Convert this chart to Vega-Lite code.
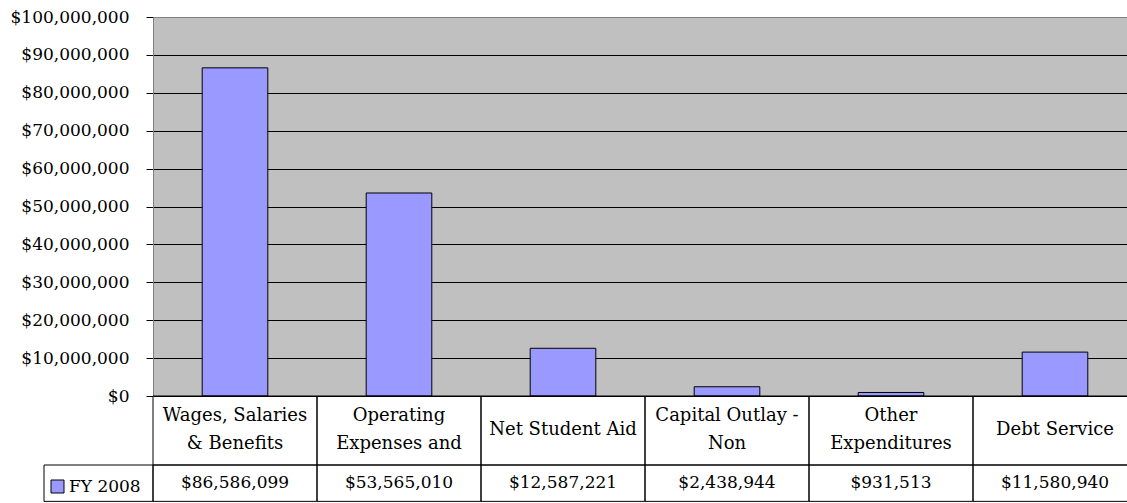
{
  "$schema": "https://vega.github.io/schema/vega-lite/v6.json",
  "width": 974,
  "height": 379,
  "autosize": {"type": "none"},
  "padding": {"left": 153, "top": 17, "right": 0, "bottom": 107},
  "background": "white",
  "config": {
    "view": {"fill": "#C0C0C0", "stroke": null},
    "font": "DejaVu Serif",
    "axisY": {
      "labelOverlap": false, "format": "$,.0f", "title": null, "grid": true,
      "gridColor": {"condition": {"test": "datum.value >= 100000000", "value": "#808080"}, "value": "black"},
      "gridOpacity": 1, "gridWidth": 1,
      "domainColor": "#808080", "tickColor": "black", "tickSize": 7, "labelPadding": 17,
      "labelFontSize": 17, "labelFont": "DejaVu Serif", "labelColor": "black"
    }
  },
  "data": {"values": [
    {"cat": "Wages", "label": ["Wages, Salaries", "& Benefits"], "series": "FY 2008", "value": 86586099},
    {"cat": "Operating", "label": ["Operating", "Expenses and"], "series": "FY 2008", "value": 53565010},
    {"cat": "Aid", "label": ["Net Student Aid"], "series": "FY 2008", "value": 12587221},
    {"cat": "Capital", "label": ["Capital Outlay -", "Non"], "series": "FY 2008", "value": 2438944},
    {"cat": "Other", "label": ["Other", "Expenditures"], "series": "FY 2008", "value": 931513},
    {"cat": "Debt", "label": ["Debt Service"], "series": "FY 2008", "value": 11580940}
  ]},
  "layer": [
    {
      "mark": {"type": "bar", "width": {"band": 0.4}, "stroke": "black", "strokeWidth": 1},
      "encoding": {
        "x": {"field": "cat", "type": "nominal", "sort": null, "axis": null,
              "scale": {"type": "band", "paddingInner": 0, "paddingOuter": 0, "range": [0, 984]}},
        "y": {"field": "value", "type": "quantitative",
              "scale": {"domain": [0, 100000000], "nice": false},
              "axis": {"values": [0, 10000000, 20000000, 30000000, 40000000, 50000000, 60000000, 70000000, 80000000, 90000000, 100000000]}},
        "color": {"field": "series", "type": "nominal", "scale": {"range": ["#9999FF"]},
                  "legend": {"orient": "none", "legendX": -104, "legendY": 461, "title": null,
                             "symbolType": "square", "symbolSize": 169, "symbolStrokeColor": "black",
                             "symbolStrokeWidth": 1, "labelFontSize": 17, "labelFont": "DejaVu Serif",
                             "labelColor": "black", "labelOffset": 3, "padding": 0}}
      }
    },
    {
      "mark": {"type": "bar", "fill": "white", "fillOpacity": 0, "stroke": "black", "strokeWidth": 1},
      "encoding": {
        "x": {"field": "cat", "type": "nominal", "sort": null},
        "y": {"datum": 0, "axis": {"values": [0, 10000000, 20000000, 30000000, 40000000, 50000000, 60000000, 70000000, 80000000, 90000000, 100000000]}},
        "y2": {"datum": -18206000}
      }
    },
    {
      "mark": {"type": "bar", "fill": "white", "fillOpacity": 0, "stroke": "black", "strokeWidth": 1},
      "encoding": {
        "x": {"field": "cat", "type": "nominal", "sort": null},
        "y": {"datum": -18206000, "axis": {"values": [0, 10000000, 20000000, 30000000, 40000000, 50000000, 60000000, 70000000, 80000000, 90000000, 100000000]}},
        "y2": {"datum": -27800000}
      }
    },
    {
      "transform": [{"filter": "datum.cat == 'Wages'"}],
      "mark": {"type": "bar", "fill": "white", "fillOpacity": 0, "stroke": "black", "strokeWidth": 1, "width": 109, "xOffset": -136.5},
      "encoding": {
        "x": {"field": "cat", "type": "nominal", "sort": null},
        "y": {"datum": -18206000, "axis": {"values": [0, 10000000, 20000000, 30000000, 40000000, 50000000, 60000000, 70000000, 80000000, 90000000, 100000000]}},
        "y2": {"datum": -27800000}
      }
    },
    {
      "transform": [{"filter": "length(datum.label) > 1"}],
      "mark": {"type": "text", "lineHeight": 28, "fontSize": 18, "font": "DejaVu Serif", "color": "black", "baseline": "middle"},
      "encoding": {
        "x": {"field": "cat", "type": "nominal", "sort": null},
        "y": {"datum": -5406000, "axis": {"values": [0, 10000000, 20000000, 30000000, 40000000, 50000000, 60000000, 70000000, 80000000, 90000000, 100000000]}},
        "text": {"field": "label"}
      }
    },
    {
      "transform": [{"filter": "length(datum.label) == 1"}],
      "mark": {"type": "text", "fontSize": 18, "font": "DejaVu Serif", "color": "black", "baseline": "middle"},
      "encoding": {
        "x": {"field": "cat", "type": "nominal", "sort": null},
        "y": {"datum": -9100000, "axis": {"values": [0, 10000000, 20000000, 30000000, 40000000, 50000000, 60000000, 70000000, 80000000, 90000000, 100000000]}},
        "text": {"field": "label"}
      }
    },
    {
      "mark": {"type": "text", "fontSize": 17, "font": "DejaVu Serif", "color": "black", "baseline": "middle"},
      "encoding": {
        "x": {"field": "cat", "type": "nominal", "sort": null},
        "y": {"datum": -23087000, "axis": {"values": [0, 10000000, 20000000, 30000000, 40000000, 50000000, 60000000, 70000000, 80000000, 90000000, 100000000]}},
        "text": {"field": "value", "type": "quantitative", "format": "$,.0f"}
      }
    }
  ]
}
